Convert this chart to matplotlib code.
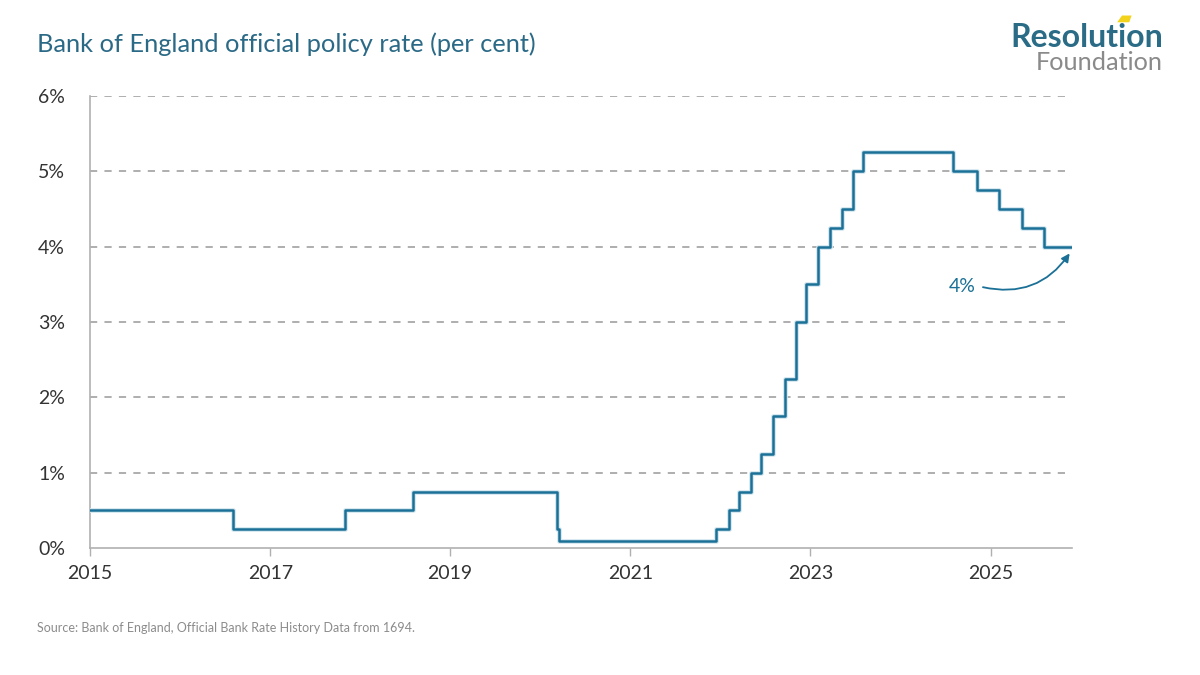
import matplotlib
matplotlib.use("Agg")
import matplotlib.pyplot as plt
import matplotlib.patheffects as pe
from matplotlib.patches import Polygon
import pandas as pd

# Bank Rate changes (date of change, new rate in per cent)
change_dates = [
    "2015-01-01", "2016-08-04", "2017-11-02", "2018-08-02", "2020-03-11",
    "2020-03-19", "2021-12-16", "2022-02-03", "2022-03-17", "2022-05-05",
    "2022-06-16", "2022-08-04", "2022-09-22", "2022-11-03", "2022-12-15",
    "2023-02-02", "2023-03-23", "2023-05-11", "2023-06-22", "2023-08-03",
    "2024-08-01", "2024-11-07", "2025-02-06", "2025-05-08", "2025-08-07",
    "2025-11-28",
]
bank_rate = [
    0.5, 0.25, 0.5, 0.75, 0.25,
    0.1, 0.25, 0.5, 0.75, 1.0,
    1.25, 1.75, 2.25, 3.0, 3.5,
    4.0, 4.25, 4.5, 5.0, 5.25,
    5.0, 4.75, 4.5, 4.25, 4.0,
    4.0,
]
tick_years = [2015, 2017, 2019, 2021, 2023, 2025]
y_ticks = [0, 1, 2, 3, 4, 5, 6]

TEAL = "#1a7096"
TITLE_COL = "#2b6a86"

plt.rcParams["font.family"] = ["Lato", "DejaVu Sans"]

dates = pd.to_datetime(change_dates)

fig = plt.figure(figsize=(12, 6.75), dpi=100)
ax = fig.add_axes([0.075, 0.188, 0.8185, 0.67])

ax.step(dates, bank_rate, where="post", color=TEAL, lw=1.8, zorder=3,
        path_effects=[pe.Stroke(linewidth=3.4, foreground="#d3e6ef"), pe.Normal()])

ax.set_xlim(dates[0], dates[-1])
ax.set_ylim(0, 6)

ax.set_yticks(y_ticks)
ax.set_yticklabels([f"{v}%" for v in y_ticks])
ax.set_xticks([pd.Timestamp(f"{y}-01-01") for y in tick_years])
ax.set_xticklabels([str(y) for y in tick_years])

for v in y_ticks[1:]:
    ax.axhline(v, color="#a8a8a8", lw=1.3, ls=(0, (4, 4)), zorder=1)

for side in ["top", "right"]:
    ax.spines[side].set_visible(False)
for side in ["left", "bottom"]:
    ax.spines[side].set_color("#b0b0b0")
    ax.spines[side].set_linewidth(1.2)
ax.tick_params(axis="y", length=0, pad=18, labelsize=14, labelcolor="#333333")
ax.tick_params(axis="x", length=6, width=1, color="#b0b0b0", direction="out",
               pad=6, labelsize=14, labelcolor="#333333")

# annotation for the latest rate
ax.annotate("", xy=(pd.Timestamp("2025-11-24"), 3.94),
            xytext=(pd.Timestamp("2024-11-20"), 3.47),
            arrowprops=dict(arrowstyle="-|>", color=TEAL, lw=1.3,
                            connectionstyle="arc3,rad=0.35", mutation_scale=12))
ax.text(pd.Timestamp("2024-11-01"), 3.47, "4%", color=TEAL, fontsize=14,
        ha="right", va="center")

# title and source
fig.text(0.031, 0.935, "Bank of England official policy rate (per cent)",
         color=TITLE_COL, fontsize=18.3, va="center")
fig.text(0.031, 0.07, "Source: Bank of England, Official Bank Rate History Data from 1694.",
         color="#8c8c8c", fontsize=9, va="center")

# logo
fig.text(0.969, 0.944, "Resolution", color="#2a6b86", fontsize=23,
         fontweight="bold", ha="right", va="center")
fig.text(0.969, 0.907, "Foundation", color="#8a8a8a", fontsize=18.2,
         ha="right", va="center")
fig.patches.append(Polygon([[0.931, 0.967], [0.941, 0.967], [0.943, 0.977], [0.935, 0.977]],
                           closed=True, transform=fig.transFigure,
                           facecolor="#f2d21b", edgecolor="none"))

fig.savefig("out.png", dpi=100)
